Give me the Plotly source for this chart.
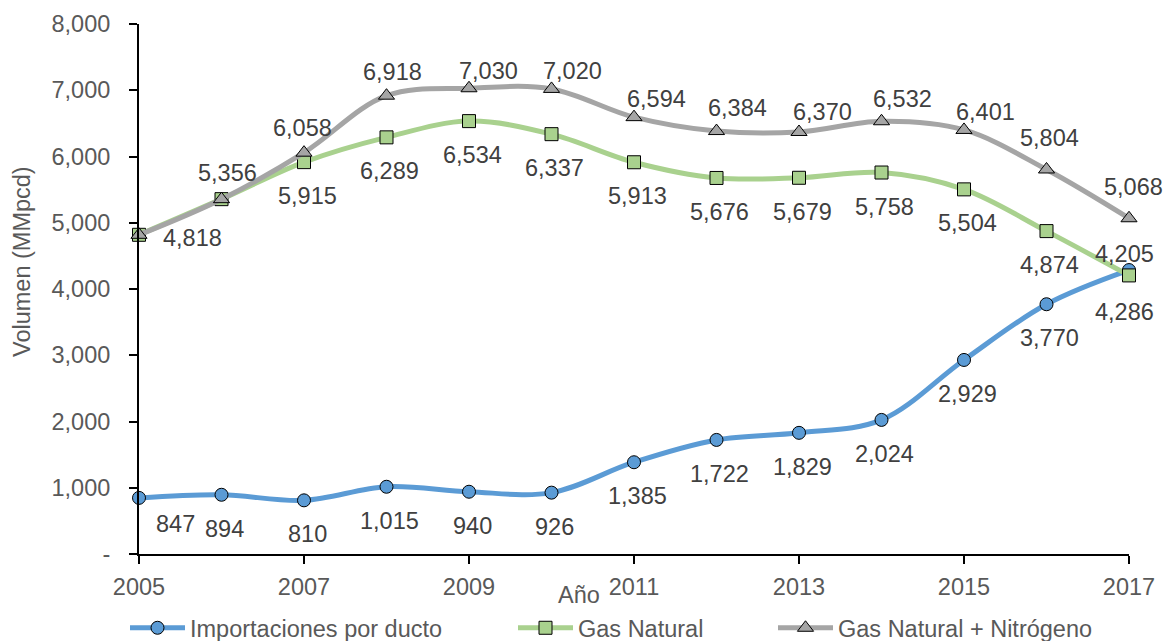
import plotly.graph_objects as go

# Volumes by year (MMpcd)
years = list(range(2005, 2018))
importaciones = [847, 894, 810, 1015, 940, 926, 1385, 1722, 1829, 2024, 2929, 3770, 4286]
gas_natural = [4818, 5356, 5915, 6289, 6534, 6337, 5913, 5676, 5679, 5758, 5504, 4874, 4205]
gas_nitrogeno = [4818, 5356, 6058, 6918, 7030, 7020, 6594, 6384, 6370, 6532, 6401, 5804, 5068]

y_tickvals = [0, 1000, 2000, 3000, 4000, 5000, 6000, 7000, 8000]
y_ticktext = ["-", "1,000", "2,000", "3,000", "4,000", "5,000", "6,000", "7,000", "8,000"]
x_tickvals = [2005, 2007, 2009, 2011, 2013, 2015, 2017]

# Data-label offsets in screen pixels (dx right, dy down); None = no label
off_imp = [(36, 26)] + [(3, 34)] * 11 + [(-5, 42)]
off_gn = [(53, 3), None] + [(3, 34)] * 10 + [(-5, -21)]
off_gnn = [None, (6, -26), (-2, -25), (6, -24), (19, -17), (21, -18), (22, -18),
           (21, -23), (23, -20), (21, -22), (21, -18), (3, -31), (4, -31)]

FONT = "Liberation Sans, Arial, sans-serif"
FS = 23.5
AXIS_GRAY = "#595959"
LABEL_GRAY = "#404040"

series = [
    ("Importaciones por ducto", importaciones, "#5B9BD5", "circle", 13, "legend", off_imp),
    ("Gas Natural", gas_natural, "#A9D18E", "square", 13, "legend2", off_gn),
    ("Gas Natural + Nitrógeno", gas_nitrogeno, "#A5A5A5", "triangle-up", 14, "legend3", off_gnn),
]

W, H = 1165, 641
L, R, T, B = 139, 36, 24, 87
pw, ph = W - L - R, H - T - B


def px_to_paper(px, py):
    return (px - L) / pw, (H - B - py) / ph


fig = go.Figure()
annotations = []
for name, vals, color, symbol, msize, leg, offs in series:
    fig.add_trace(go.Scatter(
        x=years, y=vals, name=name, mode="lines+markers",
        line=dict(color=color, width=5, shape="spline", smoothing=1),
        marker=dict(symbol=symbol, size=msize, color=color,
                    line=dict(color="#000000", width=1)),
        cliponaxis=False, legend=leg, hoverinfo="x+y+name",
    ))
    for yr, v, off in zip(years, vals, offs):
        if off is None:
            continue
        annotations.append(dict(
            x=yr, y=v, xref="x", yref="y", text=f"{v:,}", showarrow=False,
            xanchor="center", yanchor="middle",
            xshift=off[0], yshift=-off[1],
            font=dict(family=FONT, size=FS, color=LABEL_GRAY),
        ))

# Axis titles
ax_x, ax_y = px_to_paper(579, 595)
annotations.append(dict(
    x=ax_x, y=ax_y, xref="paper", yref="paper", text="Año", showarrow=False,
    xanchor="center", yanchor="middle",
    font=dict(family=FONT, size=FS, color=AXIS_GRAY),
))
ay_x, ay_y = px_to_paper(22, 262)
annotations.append(dict(
    x=ay_x, y=ay_y, xref="paper", yref="paper", text="Volumen (MMpcd)", showarrow=False,
    xanchor="center", yanchor="middle",
    textangle=-90, font=dict(family=FONT, size=FS, color=AXIS_GRAY),
))

legend_font = dict(family=FONT, size=FS, color=AXIS_GRAY)
leg_common = dict(orientation="h", xanchor="left", yanchor="middle",
                  font=legend_font, itemwidth=55, bgcolor="rgba(0,0,0,0)",
                  borderwidth=0, tracegroupgap=0)
legy = px_to_paper(0, 628)[1]

fig.update_layout(
    width=W, height=H,
    margin=dict(l=L, r=R, t=T, b=B, pad=0, autoexpand=False),
    paper_bgcolor="white", plot_bgcolor="white",
    font=dict(family=FONT, size=FS, color=AXIS_GRAY),
    showlegend=True,
    legend=dict(x=px_to_paper(125, 0)[0], y=legy, **leg_common),
    legend2=dict(x=px_to_paper(513, 0)[0], y=legy, **leg_common),
    legend3=dict(x=px_to_paper(773, 0)[0], y=legy, **leg_common),
    annotations=annotations,
    xaxis=dict(
        range=[2005, 2017], tickvals=x_tickvals, ticktext=[str(v) for v in x_tickvals],
        showgrid=False, zeroline=False, showline=True, linecolor="black", linewidth=2,
        ticks="outside", ticklen=8, tickwidth=1.5, tickcolor="black",
        tickfont=dict(family=FONT, size=FS, color=AXIS_GRAY), ticklabelstandoff=3,
        automargin=False,
    ),
    yaxis=dict(
        range=[0, 8000], tickvals=y_tickvals, ticktext=y_ticktext,
        showgrid=False, zeroline=False, showline=True, linecolor="black", linewidth=2,
        ticks="outside", ticklen=8, tickwidth=1.5, tickcolor="black",
        tickfont=dict(family=FONT, size=FS, color=AXIS_GRAY), ticklabelstandoff=14,
        automargin=False,
    ),
)

fig.write_html("out.html")
